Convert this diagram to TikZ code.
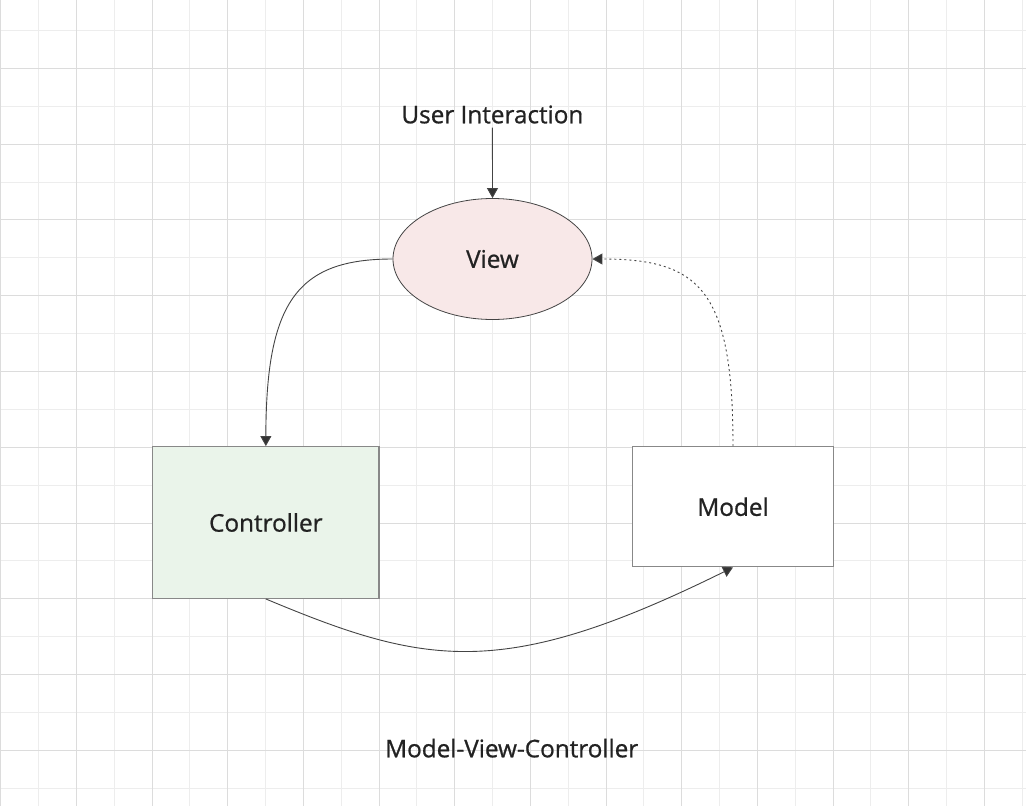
\documentclass[tikz,border=0pt]{standalone}
\usepackage{fontspec}
\setmainfont{Open Sans}
\newfontfamily\lblfont{Open Sans}[UprightFeatures={FakeBold=0.8}]
\usetikzlibrary{arrows.meta,shapes.geometric}
\definecolor{gridDark}{HTML}{DCDCDC}
\definecolor{gridLight}{HTML}{EDEDED}
\definecolor{lineCol}{HTML}{444444}
\definecolor{tipCol}{HTML}{333333}
\definecolor{viewFill}{HTML}{F8E8E8}
\definecolor{ctrlFill}{HTML}{EAF4EA}
\definecolor{boxBorder}{HTML}{888888}
\definecolor{textCol}{HTML}{222222}
\tikzset{
  lbl/.style={font=\lblfont\fontsize{24.3}{29}\selectfont, text=textCol},
  viewshape/.style={ellipse, draw=lineCol, line width=0.8pt, fill=viewFill,
    minimum width=199pt, minimum height=121pt, inner sep=0pt, lbl},
  boxshape/.style={rectangle, draw=boxBorder, line width=1.3pt, inner sep=0pt, lbl},
  conn/.style={draw=lineCol, line width=0.9pt,
    -{Triangle[length=10pt,width=11pt,fill=tipCol]}},
  dotconn/.style={conn, dash pattern=on 2pt off 3pt},
  gridline/.style={line width=0.9pt}
}
\begin{document}
\begin{tikzpicture}[x=1pt,y=-1pt]
\useasboundingbox (0,0) rectangle (1026,806);
\fill[white] (0,0) rectangle (1026,806);
% grid
\foreach \j in {0,...,13} {
  \draw[gridline, gridLight] ({38.55+75.67*\j},0) -- ({38.55+75.67*\j},806);
}
\foreach \j in {0,...,10} {
  \draw[gridline, gridLight] (0,{30.4+75.78*\j}) -- (1026,{30.4+75.78*\j});
}
\foreach \j in {0,...,13} {
  \draw[gridline, gridDark] ({0.7+75.67*\j},0) -- ({0.7+75.67*\j},806);
}
\foreach \j in {-1,...,9} {
  \draw[gridline, gridDark] (0,{68.3+75.78*\j}) -- (1026,{68.3+75.78*\j});
}
% nodes
\node[lbl, anchor=base, inner sep=4pt] (ui) at (492.4,123.3) {User Interaction};
\node[viewshape] (view) at (492.5,259) {View};
\node[boxshape, fill=ctrlFill, minimum width=226.3pt, minimum height=151.6pt] (ctrl) at (265.85,522.5) {Controller};
\node[boxshape, fill=white, minimum width=200.6pt, minimum height=120pt] (model) at (733,506.7) {Model};
\node[lbl, anchor=base] (title) at (511.7,757.3) {Model-View-Controller};
% connectors
\draw[conn] (ui.south) -- (view.north);
\draw[conn] (view.west) .. controls (297,259) and (266,302) .. (ctrl.north);
\draw[conn] (ctrl.south) .. controls (426,666) and (503,681) .. (model.south);
\draw[dotconn] (model.north) .. controls (733,290) and (700,259) .. (view.east);
\end{tikzpicture}
\end{document}
